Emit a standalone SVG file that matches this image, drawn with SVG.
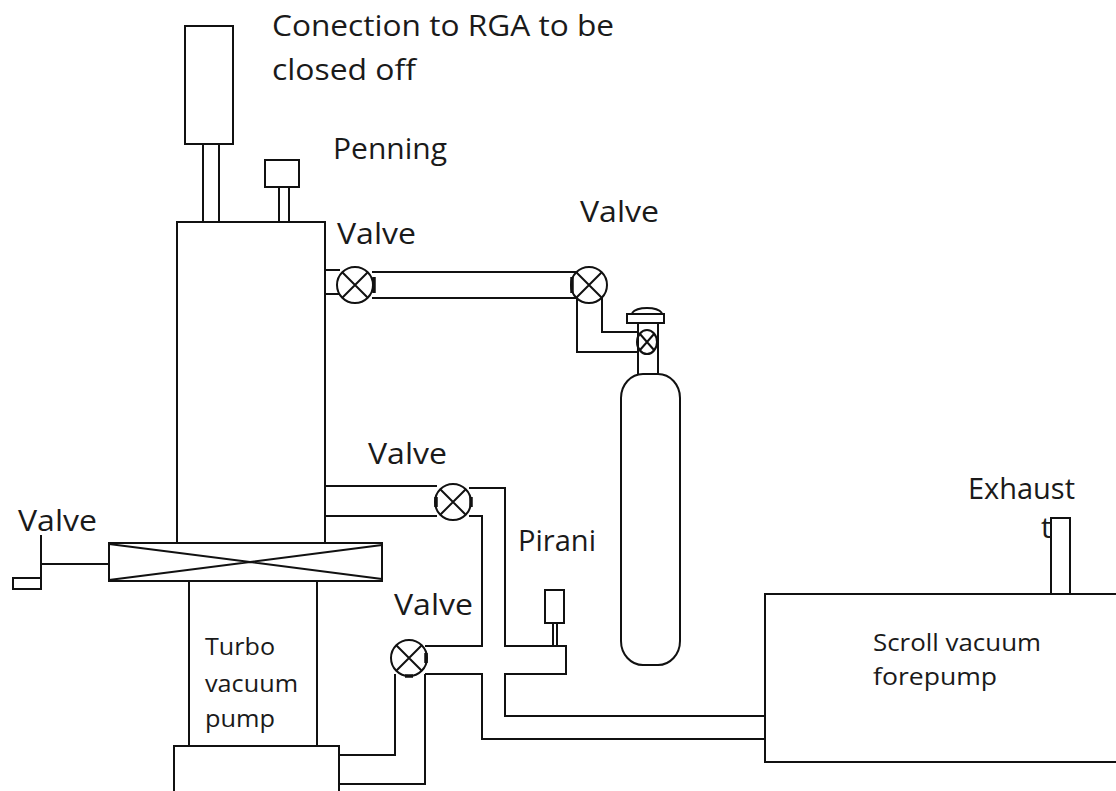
<svg xmlns="http://www.w3.org/2000/svg" width="1116" height="791" viewBox="0 0 1116 791">
<style>
.s{fill:none;stroke:#111;stroke-width:2}
.t{stroke-width:3.5}
text{font-family:"Open Sans","Noto Sans","DejaVu Sans",sans-serif;font-size:29px;fill:#1a1a1a}
.m{font-size:24px}
</style>
<rect width="1116" height="791" fill="#fff"/>
<g id="connectors">
<path class="s" d="M325 270H340M325 294H340"/>
<path class="s" d="M372 272H578M372 298H578"/>
<path class="s" d="M602 298V332H638M577 298V352H638"/>
<path class="s" d="M325 486H437M325 516H437"/>
<path class="s" d="M469 488H505V646H566V674H505V716H765"/>
<path class="s" d="M469 516H482V646H425"/>
<path class="s" d="M425 674H482V739H765"/>
<path class="s" d="M339 755H395V674M339 784H425V674"/>
<path class="s" d="M109 564H41M41 535V588"/>
</g>
<g id="rga"><rect class="s" x="185" y="26" width="48" height="118"/><path class="s" d="M203 144V222M219 144V222"/></g>
<g id="penning"><rect class="s" x="265" y="160" width="34" height="27"/><path class="s" d="M279 187V222M289 187V222"/></g>
<g id="chamber"><path class="s" d="M177 543V222H325V543"/></g>
<g id="gate-valve"><rect class="s" x="109" y="543" width="273" height="38"/><path class="s" d="M109 544L382 579M109 580L382 545"/></g>
<g id="small-valve"><rect class="s" x="13" y="578" width="28" height="11"/></g>
<g id="turbo"><path class="s" d="M189 581V746M317 581V746"/><path class="s" d="M174 791V746H339V791"/></g>
<g id="valve1"><circle class="s" cx="355" cy="285" r="18"/><path class="s" d="M342 272L368 298M368 272L342 298"/><path class="s t" d="M374 277V293"/></g>
<g id="valve2"><circle class="s" cx="589" cy="285" r="18"/><path class="s" d="M576 272L602 298M602 272L576 298"/><path class="s t" d="M572 277V293"/></g>
<g id="valve3"><circle class="s" cx="453" cy="502" r="18"/><path class="s" d="M440 489L466 515M466 489L440 515"/><path class="s t" d="M436 497V507M471 497V507"/></g>
<g id="valve4"><circle class="s" cx="409" cy="658" r="18"/><path class="s" d="M396 645L422 671M422 645L396 671"/><path class="s t" d="M426 653V663M405 676H413"/></g>
<g id="cylinder">
<rect class="s" x="621" y="374" width="59" height="291" rx="22" ry="24"/>
<path class="s" d="M638 323V374M658 323V374"/>
<rect class="s" x="627" y="314" width="37" height="9"/>
<path class="s" d="M632 313Q636 308 647 308Q658 308 662 313"/>
<ellipse class="s" cx="647" cy="342" rx="10" ry="12"/>
<path class="s" d="M640 334L654 350M654 334L640 350"/>
</g>
<g id="pirani"><rect class="s" x="545" y="590" width="19" height="33"/><path class="s" d="M553 623V646M557 623V646"/></g>
<g id="forepump"><path class="s" d="M1116 594H765V762H1116"/></g>
<g id="exhaust"><rect class="s" x="1051" y="518" width="19" height="76"/></g>
<g id="labels">
<text x="272" y="36" textLength="342" lengthAdjust="spacingAndGlyphs">Conection to RGA to be</text>
<text x="272" y="80" textLength="144" lengthAdjust="spacingAndGlyphs">closed off</text>
<text x="333" y="159" textLength="114" lengthAdjust="spacingAndGlyphs">Penning</text>
<text x="337" y="244" textLength="79" lengthAdjust="spacingAndGlyphs">Valve</text>
<text x="580" y="222" textLength="79" lengthAdjust="spacingAndGlyphs">Valve</text>
<text x="368" y="464" textLength="79" lengthAdjust="spacingAndGlyphs">Valve</text>
<text x="18" y="531" textLength="79" lengthAdjust="spacingAndGlyphs">Valve</text>
<text x="394" y="615" textLength="79" lengthAdjust="spacingAndGlyphs">Valve</text>
<text x="518" y="551" textLength="78" lengthAdjust="spacingAndGlyphs">Pirani</text>
<text x="968" y="499" textLength="107" lengthAdjust="spacingAndGlyphs">Exhaust</text>
<text x="1041" y="538">t</text>
<text x="205" y="655" class="m" textLength="70" lengthAdjust="spacingAndGlyphs">Turbo</text>
<text x="205" y="692" class="m" textLength="93" lengthAdjust="spacingAndGlyphs">vacuum</text>
<text x="205" y="727" class="m" textLength="70" lengthAdjust="spacingAndGlyphs">pump</text>
<text x="873" y="651" class="m" textLength="168" lengthAdjust="spacingAndGlyphs">Scroll vacuum</text>
<text x="873" y="685" class="m" textLength="124" lengthAdjust="spacingAndGlyphs">forepump</text>
</g>
</svg>
